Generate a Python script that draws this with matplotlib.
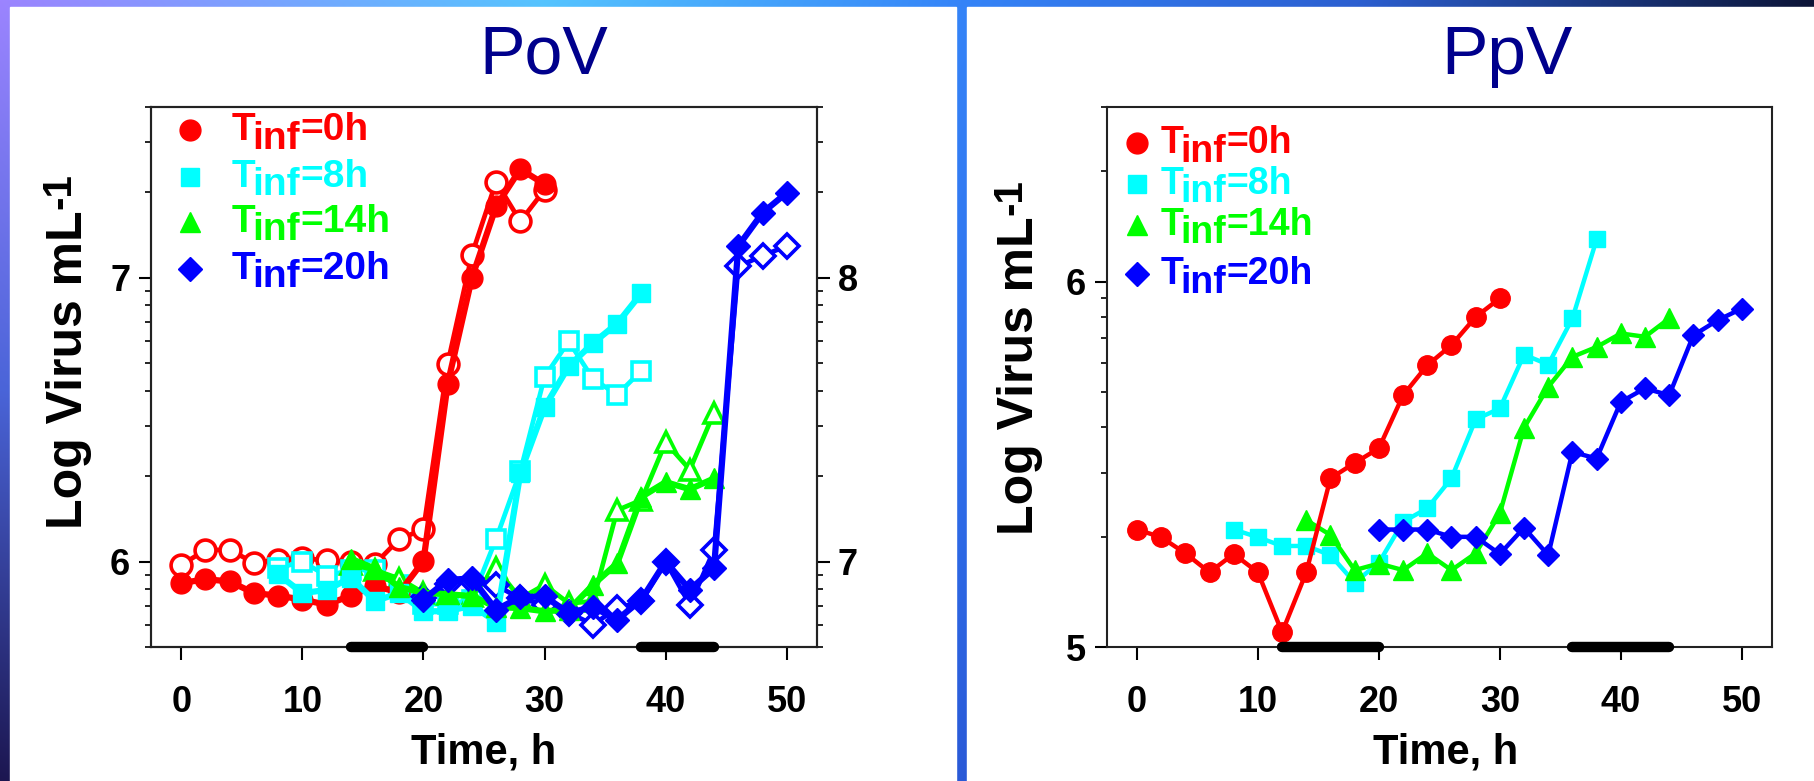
import numpy as np
import matplotlib
matplotlib.use("Agg")
import matplotlib.pyplot as plt
from matplotlib.patches import Rectangle
from matplotlib.ticker import FixedLocator, LogLocator, FuncFormatter, NullFormatter

plt.rcParams['font.family'] = ['Liberation Sans', 'DejaVu Sans']

# ---- data (log10 virus per mL), sampled every 2 h ----
t_0h = [0, 2, 4, 6, 8, 10, 12, 14, 16, 18, 20, 22, 24, 26, 28, 30]
t_8h = [8, 10, 12, 14, 16, 18, 20, 22, 24, 26, 28, 30, 32, 34, 36, 38]
t_14h = [14, 16, 18, 20, 22, 24, 26, 28, 30, 32, 34, 36, 38, 40, 42, 44]
t_20h = [20, 22, 24, 26, 28, 30, 32, 34, 36, 38, 40, 42, 44, 46, 48, 50]

# PoV, filled symbols (left axis)
pov_0h = [5.924, 5.938, 5.930, 5.889, 5.880, 5.866, 5.848, 5.880, 5.915, 5.890,
          6.002, 6.626, 7.000, 7.252, 7.383, 7.330]
pov_8h = [5.955, 5.889, 5.900, 5.943, 5.860, 5.890, 5.825, 5.825, 5.845, 5.788,
          6.312, 6.544, 6.688, 6.770, 6.839, 6.946]
pov_14h = [6.010, 5.975, 5.910, 5.890, 5.885, 5.878, 5.840, 5.836, 5.825, 5.830,
           5.918, 5.994, 6.228, 6.280, 6.255, 6.293]
pov_20h = [5.866, 5.935, 5.941, 5.830, 5.875, 5.877, 5.819, 5.840, 5.795, 5.866,
           6.000, 5.901, 5.977, 7.112, 7.229, 7.300]

# PoV, open symbols (right axis)
pov_0h_open = [6.988, 7.041, 7.041, 6.996, 7.005, 7.012, 7.004, 7.000, 6.992, 7.079,
               7.114, 7.698, 8.082, 8.339, 8.199, 8.310]
pov_8h_open = [6.977, 7.000, 6.950, 6.970, 6.970, 6.918, 6.850, 6.850, 6.866, 7.080,
               7.318, 7.651, 7.776, 7.644, 7.588, 7.673]
pov_14h_open = [6.990, 6.970, 6.940, 6.890, 6.885, 6.880, 6.977, 6.870, 6.918, 6.853,
                6.860, 7.181, 7.217, 7.420, 7.324, 7.525]
pov_20h_open = [6.870, 6.920, 6.930, 6.916, 6.870, 6.848, 6.820, 6.778, 6.836, 6.860,
                7.000, 6.848, 7.041, 8.040, 8.078, 8.112]

# PpV
ppv_0h = [5.322, 5.301, 5.257, 5.205, 5.255, 5.205, 5.041, 5.205, 5.462, 5.504,
          5.544, 5.689, 5.771, 5.826, 5.903, 5.954]
ppv_8h = [5.322, 5.301, 5.277, 5.277, 5.252, 5.177, 5.231, 5.343, 5.380, 5.462,
          5.623, 5.653, 5.800, 5.773, 5.899, 6.115]
ppv_14h = [5.348, 5.307, 5.211, 5.229, 5.211, 5.257, 5.211, 5.257, 5.366, 5.600,
           5.712, 5.794, 5.821, 5.858, 5.849, 5.899]
ppv_20h = [5.322, 5.322, 5.322, 5.302, 5.302, 5.255, 5.327, 5.252, 5.534, 5.516,
           5.671, 5.708, 5.689, 5.853, 5.894, 5.926]

# dark periods (black bars on the time axis)
dark_pov = [(14, 20), (38, 44)]
dark_ppv = [(12, 20), (36, 44)]

labels = ['0h', '8h', '14h', '20h']
colors = ['#ff0000', '#00ffff', '#00ff00', '#0000ff']
markers = ['o', 's', '^', 'D']

W, H = 1814, 781
fig = plt.figure(figsize=(W / 100, H / 100), dpi=100)

# ---- slide background ----
bg = fig.add_axes([0, 0, 1, 1])
bg.axis('off')
ctrl_x = [0.0, 0.3, 0.53, 0.75, 1.0]
ctrl_y = [0.0, 0.5, 1.0]
ctrl = [['#9c84ff', '#55c4ff', '#3584f8', '#2c5fd0', '#0c1436'],
        ['#4a64d8', '#3f8af0', '#2f72ee', '#243d9a', '#0d1232'],
        ['#1c1650', '#2a4aa8', '#2a5ad8', '#1a2a70', '#0a0e28']]
ctrl = np.array([[matplotlib.colors.to_rgb(c) for c in row] for row in ctrl])
xs = np.linspace(0, 1, W)
ys = np.linspace(0, 1, H)
rows = np.array([[np.interp(xs, ctrl_x, ctrl[r, :, c]) for c in range(3)] for r in range(3)])
img = np.empty((H, W, 3))
for c in range(3):
    for j in range(W):
        img[:, j, c] = np.interp(ys, ctrl_y, rows[:, c, j])
bg.imshow(img, extent=[0, W, H, 0], aspect='auto')
bg.add_patch(Rectangle((10, 7), 946, H - 7, color='white'))
bg.add_patch(Rectangle((967, 7), W - 967, H - 7, color='white'))
bg.set_xlim(0, W)
bg.set_ylim(H, 0)

logfmt = FuncFormatter(lambda v, p: '%d' % round(np.log10(v)))


def style_axis(ax, ymin, ymax, majors):
    ax.set_xlim(-2.5, 52.5)
    ax.set_yscale('log')
    ax.set_ylim(ymin, ymax)
    ax.xaxis.set_major_locator(FixedLocator([0, 10, 20, 30, 40, 50]))
    ax.yaxis.set_major_locator(FixedLocator(majors))
    ax.yaxis.set_major_formatter(logfmt)
    ax.yaxis.set_minor_locator(LogLocator(base=10, subs=np.arange(2, 10)))
    ax.yaxis.set_minor_formatter(NullFormatter())
    ax.tick_params(axis='x', which='major', direction='out', length=9, width=1.5,
                   pad=18, labelsize=26)
    ax.tick_params(axis='y', which='major', direction='out', length=9, width=1.5,
                   pad=6, labelsize=26)
    ax.tick_params(axis='y', which='minor', direction='out', length=4, width=1.2)
    for lab in ax.get_xticklabels() + ax.get_yticklabels():
        lab.set_fontweight('bold')
    for sp in ax.spines.values():
        sp.set_linewidth(1.5)
        sp.set_color('#222222')


def legend(ax, x_mark, x_text, y_rows, fs, msizes):
    for lab, col, mk, ms, y in zip(labels, colors, markers, msizes, y_rows):
        ax.plot([x_mark], [y], marker=mk, ms=ms, color=col, ls='none',
                transform=ax.transAxes, clip_on=False, zorder=20)
        t = ax.text(x_text, y, 'T', transform=ax.transAxes, color=col, fontsize=fs,
                    fontweight='bold', va='center', ha='left', zorder=20)
        s = ax.annotate('inf', xy=(1, 0), xycoords=t, xytext=(-2, -6),
                        textcoords='offset points', color=col, fontsize=fs,
                        fontweight='bold', va='bottom', ha='left', zorder=20)
        ax.annotate('=' + lab, xy=(1, 0), xycoords=s, xytext=(0, 6),
                    textcoords='offset points', color=col, fontsize=fs,
                    fontweight='bold', va='bottom', ha='left', zorder=20)


def dark_bars(ax, spans, ybar):
    for a, b in spans:
        ax.plot([a, b], [ybar, ybar], color='black', lw=7.5, solid_capstyle='round',
                clip_on=False, zorder=15)


# ---- PoV panel ----
axL = fig.add_axes([151 / W, 1 - 647 / H, 666 / W, 540 / H])
style_axis(axL, 5e5, 4e7, [1e6, 1e7])
axL.set_zorder(2)
axL.patch.set_visible(False)
axR2 = axL.twinx()
style_axis(axR2, 5e6, 4e8, [1e7, 1e8])
axR2.set_zorder(1)

pov_ms = [15, 13, 15, 12]
filled = [pov_0h, pov_8h, pov_14h, pov_20h]
opened = [pov_0h_open, pov_8h_open, pov_14h_open, pov_20h_open]
times = [t_0h, t_8h, t_14h, t_20h]
for tt, yf, yo, col, mk, ms in zip(times, filled, opened, colors, markers, pov_ms):
    axR2.plot(tt, 10 ** np.array(yo), color=col, lw=3.4, marker=mk, ms=ms,
              mfc='white', mec=col, mew=2.6)
    axL.plot(tt, 10 ** np.array(yf), color=col, lw=4.5, marker=mk, ms=ms,
             mfc=col, mec=col)
dark_bars(axL, dark_pov, 5e5)
legend(axL, 0.059, 0.121, [0.957, 0.871, 0.787, 0.700], 28, [15, 13, 15, 12])

# ---- PpV panel ----
axP = fig.add_axes([1106.7 / W, 1 - 647.3 / H, 665.3 / W, 540.3 / H])
style_axis(axP, 1e5, 3e6, [1e5, 1e6])
axP.tick_params(right=False, top=False)
for tt, yv, col, mk, ms, z in zip(times, [ppv_0h, ppv_8h, ppv_14h, ppv_20h],
                                  colors, markers, [14, 12, 14, 11], [5, 3, 4, 4]):
    axP.plot(tt, 10 ** np.array(yv), color=col, lw=3.2, marker=mk, ms=ms,
             mfc=col, mec=col, zorder=z)
dark_bars(axP, dark_ppv, 1e5)
legend(axP, 0.045, 0.081, [0.933, 0.858, 0.782, 0.690], 27, [15, 13, 15, 12])

# ---- titles and axis labels ----
fig.text(544 / W, 1 - 74 / H, 'PoV', fontsize=49, color='#00008c', ha='center',
         va='baseline')
fig.text(1507 / W, 1 - 74 / H, 'PpV', fontsize=50, color='#00008c', ha='center',
         va='baseline')
for xc, yc in ((69, 370), (1020, 376)):
    lab = fig.text(xc / W, 1 - yc / H, 'Log Virus mL', fontsize=36,
                   fontweight='bold', rotation=90, ha='center', va='center')
    bg.annotate('-1', xy=(0, 1), xycoords=lab, xytext=(-4, 1),
                textcoords='offset points', fontsize=29, fontweight='bold',
                rotation=90, ha='left', va='bottom', annotation_clip=False)
for xc in (484, 1446):
    fig.text(xc / W, 1 - 752 / H, 'Time, h', fontsize=30, fontweight='bold',
             ha='center', va='center')

fig.savefig('out.png', dpi=100)
